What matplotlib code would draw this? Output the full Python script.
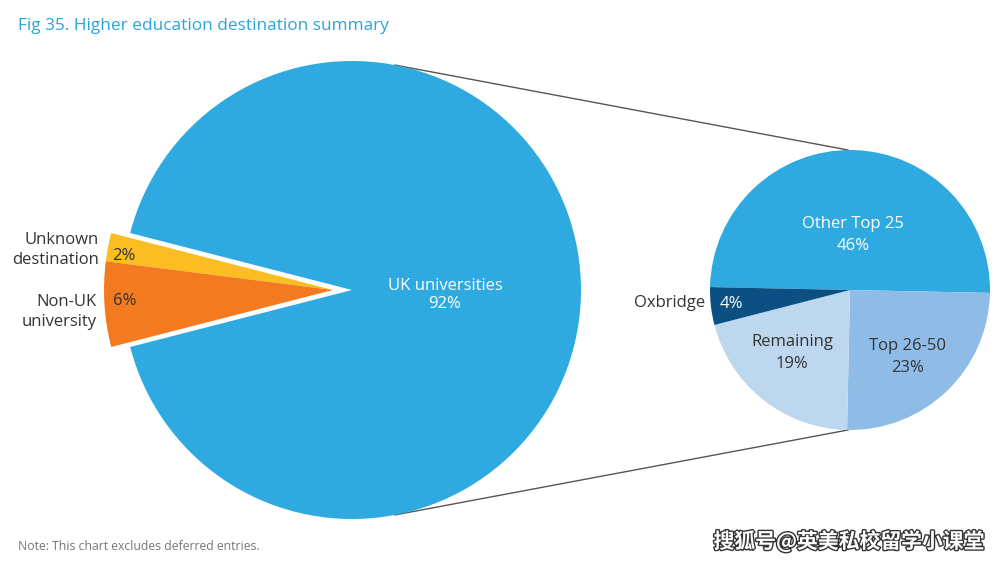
import matplotlib
matplotlib.use("Agg")
import matplotlib.pyplot as plt
import numpy as np
import matplotlib.patheffects as pe

# ---- data ----
main_labels = ["Unknown\ndestination", "Non-UK\nuniversity", "UK universities"]
main_values = [2, 6, 92]
main_colors = ["#fbbd22", "#f47a20", "#2eaae1"]

uk_labels = ["Other Top 25", "Top 26-50", "Remaining", "Oxbridge"]
uk_values = [46, 23, 19, 4]
uk_colors = ["#2eaae1", "#8ebce6", "#bdd7ef", "#0c4f82"]

title = "Fig 35. Higher education destination summary"
note = "Note: This chart excludes deferred entries."
watermark = "搜狐号@英美私校留学小课堂"

FONT = ["Open Sans", "DejaVu Sans"]
DARK = "#333333"

W, H = 1005, 563
fig = plt.figure(figsize=(W / 100, H / 100), dpi=100)
ax = fig.add_axes([0, 0, 1, 1])

# ---- big pie ----
big_c = (352, H - 290)
big_r = 229
group = sum(main_values[:2])
start = 180 - group / sum(main_values) * 360 / 2
wedges, _ = ax.pie(main_values, colors=main_colors, startangle=start,
                   counterclock=True, center=big_c, radius=big_r, frame=True)
shift = 19
for w in wedges[:2]:
    w.set_center((big_c[0] - shift, big_c[1]))

# ---- small pie ----
sm_c = (850, H - 290)
sm_r = 140
sw, _ = ax.pie(uk_values, colors=uk_colors, startangle=178.8,
               counterclock=False, center=sm_c, radius=sm_r, frame=True)

# ---- connector lines ----
for ab, as_ in [(79.2, 90.8), (-79.2, -90.8)]:
    p1 = (big_c[0] + big_r * np.cos(np.radians(ab)), big_c[1] + big_r * np.sin(np.radians(ab)))
    p2 = (sm_c[0] + sm_r * np.cos(np.radians(as_)), sm_c[1] + sm_r * np.sin(np.radians(as_)))
    ax.plot([p1[0], p2[0]], [p1[1], p2[1]], color="#555555", lw=1.0, zorder=0.5)

ax.set_xlim(0, W)
ax.set_ylim(0, H)
ax.set_aspect("equal")
ax.axis("off")

def T(x, y, s, **kw):
    kw.setdefault("family", FONT)
    ax.text(x, H - y, s, **kw)

# labels on big pie
T(445, 295, f"{main_labels[2]}\n{main_values[2]}%", color="white", fontsize=12,
  ha="center", va="center", linespacing=1.2)
T(99, 250, main_labels[0], color=DARK, fontsize=12, ha="right", va="center", linespacing=1.25)
T(124, 256, f"{main_values[0]}%", color=DARK, fontsize=12, ha="center", va="center")
T(97, 312, main_labels[1], color=DARK, fontsize=12, ha="right", va="center", linespacing=1.25)
T(125, 301, f"{main_values[1]}%", color=DARK, fontsize=12, ha="center", va="center")

# labels on small pie
T(853, 235, f"{uk_labels[0]}\n{uk_values[0]}%", color="white", fontsize=12,
  ha="center", va="center", linespacing=1.5)
T(908, 357, f"{uk_labels[1]}\n{uk_values[1]}%", color=DARK, fontsize=12,
  ha="center", va="center", linespacing=1.5)
T(792, 353, f"{uk_labels[2]}\n{uk_values[2]}%", color=DARK, fontsize=12,
  ha="center", va="center", linespacing=1.5)
T(705, 303, uk_labels[3], color=DARK, fontsize=12, ha="right", va="center")
T(731, 304, f"{uk_values[3]}%", color="white", fontsize=12, ha="center", va="center")

# title & note
T(18, 26, title, color="#2ba3dc", fontsize=12.4, ha="left", va="center")
T(18, 546, note, color="#777777", fontsize=8.8, ha="left", va="center")
T(985, 541, watermark, color="white", fontsize=15, ha="right", va="center",
  family=["Noto Sans CJK SC", "DejaVu Sans"], fontweight="bold",
  path_effects=[pe.withStroke(linewidth=2, foreground="#333333")])

fig.savefig("out.png", dpi=100)
